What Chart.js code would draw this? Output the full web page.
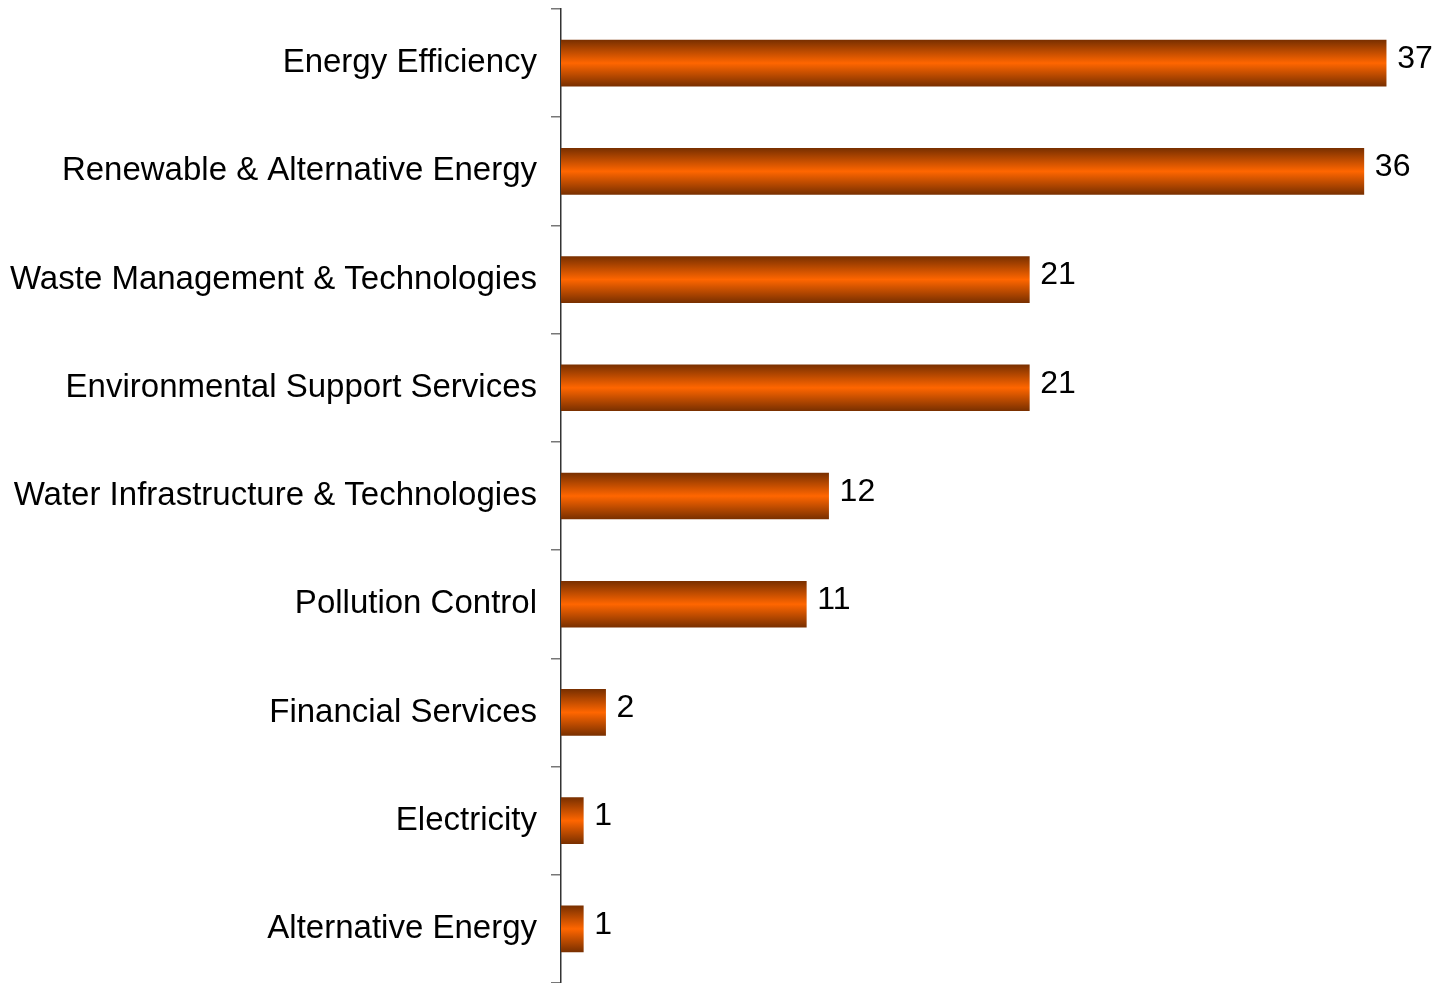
<!DOCTYPE html>
<html>
<head>
<meta charset="utf-8">
<script src="https://cdn.jsdelivr.net/npm/chart.js@4"></script>
<style>
  html, body { margin: 0; padding: 0; background: #fff; }
  #wrap { width: 1441px; height: 983px; }
</style>
</head>
<body>
<div id="wrap"><canvas id="sectorBarChart"></canvas></div>
<script>
// sectors, top to bottom
const categories = [
    "Energy Efficiency",
    "Renewable & Alternative Energy",
    "Waste Management & Technologies",
    "Environmental Support Services",
    "Water Infrastructure & Technologies",
    "Pollution Control",
    "Financial Services",
    "Electricity",
    "Alternative Energy"
];
const counts = [37, 36, 21, 21, 12, 11, 2, 1, 1];

const FONT = "'Liberation Sans', Arial, sans-serif";
const FONT_SIZE = 33;

// value labels at the end of each bar
const valueLabels = {
    id: 'valueLabels',
    afterDatasetsDraw(chart) {
        const ctx = chart.ctx;
        const meta = chart.getDatasetMeta(0);
        ctx.save();
        ctx.font = "32px " + FONT;
        ctx.fillStyle = "#000";
        ctx.textAlign = "left";
        ctx.textBaseline = "middle";
        meta.data.forEach(function (bar, i) {
            ctx.fillText(String(counts[i]), bar.x + 11, bar.y - 4);
        });
        ctx.restore();
    }
};

function barGradient(context) {
    const chart = context.chart;
    const yScale = chart.scales.y;
    if (!chart.chartArea || !yScale) return "#ff6600";
    const cy = yScale.getPixelForValue(context.dataIndex);
    const half = 23;
    const g = chart.ctx.createLinearGradient(0, cy - half, 0, cy + half);
    g.addColorStop(0, "#7a3000");
    g.addColorStop(0.5, "#ff6600");
    g.addColorStop(1, "#7a3000");
    return g;
}

const CHART = document.getElementById("sectorBarChart");
let barChart = new Chart(CHART, {
    type: 'bar',
    data: {
        labels: categories,
        datasets: [
            {
                label: "Count",
                data: counts,
                backgroundColor: barGradient,
                borderWidth: 0,
                barThickness: 46
            }
        ]
    },
    options: {
        indexAxis: 'y',
        responsive: true,
        maintainAspectRatio: false,
        animation: false,
        layout: { padding: { top: 9, right: 0, bottom: 0, left: 0 } },
        plugins: {
            legend: { display: false },
            tooltip: { enabled: false }
        },
        scales: {
            x: {
                display: false,
                min: 0,
                max: 39.46
            },
            y: {
                offset: true,
                afterFit: function (scale) {
                    scale.width = 561;
                    scale.paddingTop = 0;
                    scale.paddingBottom = 0;
                },
                grid: {
                    offset: true,
                    drawOnChartArea: false,
                    drawTicks: true,
                    tickLength: 10,
                    color: "#777",
                    lineWidth: 1.5
                },
                border: { color: "#333", width: 1.5 },
                ticks: {
                    color: "#000",
                    padding: 14,
                    font: { family: FONT, size: FONT_SIZE }
                }
            }
        }
    },
    plugins: [valueLabels]
});
</script>
</body>
</html>
